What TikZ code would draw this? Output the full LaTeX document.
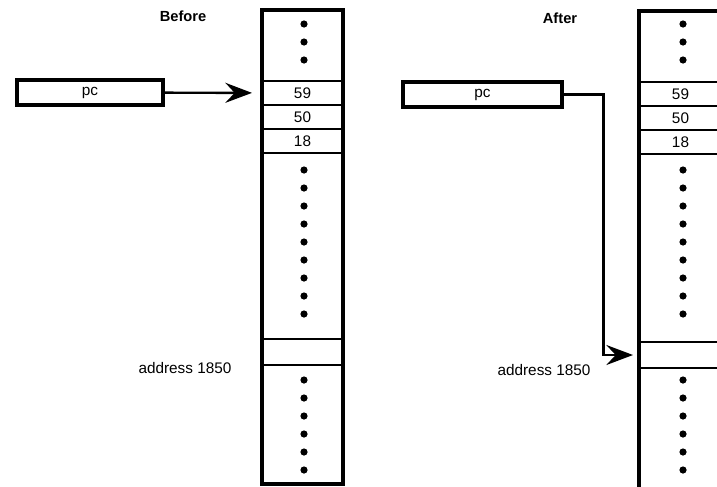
\documentclass[tikz,border=0pt]{standalone}
\usepackage{fontspec}
\setmainfont{Liberation Sans}
\usetikzlibrary{positioning,arrows.meta}

\begin{document}
\begin{tikzpicture}[
      x=0.75pt, y=-0.75pt,
      font=\fontsize{11.5}{13}\selectfont,
      cell/.style={draw,line width=1.5pt,minimum width=60.75pt,minimum height=18pt,inner sep=0pt,outer sep=0pt},
      reg/.style={draw,line width=2.4pt,minimum height=18.75pt,inner sep=0pt},
      column/.style={draw,line width=2.6pt},
      link/.style={-{Stealth[length=20pt,width=15pt,inset=7pt]},line width=1.8pt},
      dot/.style={fill=black}
    ]
      \useasboundingbox (0,0) rectangle (717,486);
      \clip (0,0) rectangle (717,486);

      % before
      \node[font=\fontsize{11}{13}\selectfont\bfseries] (before) at (183,16) {Before};
      \node[reg,minimum width=109.5pt] (pcB) at (90,92.5) {pc};
      \node[cell] (c59B) at (302.5,93) {59};
      \node[cell,below=0pt of c59B] (c50B) {50};
      \node[cell,below=0pt of c50B] (c18B) {18};
      \node[cell,minimum height=19.5pt] (addrB) at (302.5,352) {};
      \node (lblB) at (185,368) {address 1850};
      \draw[column] (262,10) rectangle (343,484);
      \foreach \y in {24,42,60,170,188,...,314,380,398,...,470}
        \fill[dot] (304,\y) circle (2.7pt);
      \draw[link,shorten >=7.5pt] (pcB) -- (c59B);

      % after
      \node[font=\fontsize{11}{13}\selectfont\bfseries] (after) at (560,18) {After};
      \node[reg,minimum width=119.25pt] (pcA) at (482.5,94.5) {pc};
      \node[cell,minimum width=62.25pt] (c59A) at (680.5,94) {59};
      \node[cell,minimum width=62.25pt,below=0pt of c59A] (c50A) {50};
      \node[cell,minimum width=62.25pt,below=0pt of c50A] (c18A) {18};
      \node[cell,minimum width=62.25pt,minimum height=19.5pt] (addrA) at (680.5,355) {};
      \node (lblA) at (544,370) {address 1850};
      \draw[column] (639,11) rectangle (722,490);
      \foreach \y in {24,42,60,170,188,...,314,380,398,...,470}
        \fill[dot] (683,\y) circle (2.7pt);
      \draw[link,shorten >=4.5pt] (pcA.east) -- ++(40,0) |- (addrA.west);
    \end{tikzpicture}
\end{document}
